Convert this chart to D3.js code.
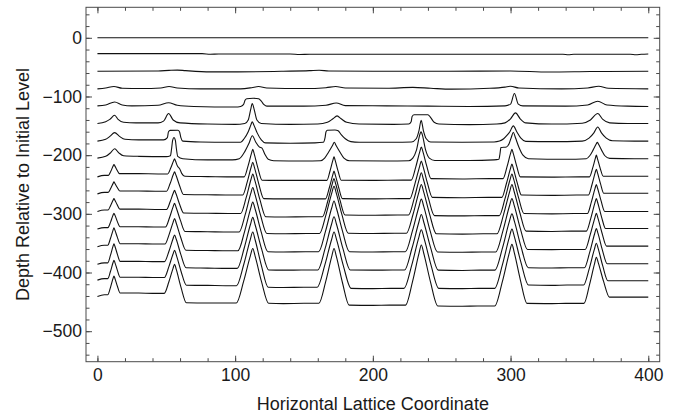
<!DOCTYPE html>
<html><head><meta charset="utf-8">
<script src="https://cdn.jsdelivr.net/npm/d3@7"></script>
<style>
html,body{margin:0;padding:0;background:#fff;}
text{font-family:"Liberation Sans",Arial,sans-serif;}
</style></head>
<body><svg id="chart" width="677" height="416"></svg>
<script>
// ---------- data ----------
const xTitle = "Horizontal Lattice Coordinate";
const yTitle = "Depth Relative to Initial Level";
const xMajorTicks = [0, 100, 200, 300, 400];
const yMajorTicks = [-500, -400, -300, -200, -100, 0];
const xMinorTicks = d3.range(0, 401, 20);
const yMinorTicks = d3.range(-540, 41, 20);

const profile0 = [[0,0],[400,0]];
const profile1 = [[0,-27],[76,-27],[82,-28],[88,-27.5],[140,-27.5],[147,-28.5],[154,-28],[250,-28],[338,-28],[342,-28.8],[346,-28],[387,-28],[391,-28.8],[395,-28],[400,-27.5]];
const profile2 = [[0,-57],[44,-56.5],[52,-55.5],[58,-55],[64,-56],[82,-58],[102,-58],[135,-57],[154,-56],[161,-55.2],[168,-56.5],[200,-57],[255,-57],[300,-56.5],[328,-58.3],[358,-57.5],[400,-57]];
const profile3 = [[0,-87],[6,-85.5],[12,-83],[18,-86],[32,-86.5],[46,-85.5],[52,-83],[58,-85.5],[75,-87],[104,-87],[112,-85],[117,-83],[123,-85.5],[150,-86.5],[166,-85],[173,-83],[180,-85.5],[210,-86],[229,-84.5],[242,-86],[257,-87.5],[285,-86],[296,-84],[300,-82.5],[306,-85.5],[337,-87],[356,-85.5],[364,-82.5],[371,-86],[400,-87]];
const profile4 = [[0,-116],[6,-114.5],[12.5,-109.5],[18,-114.5],[25,-116],[44,-115],[51.7,-110.6],[58,-115],[70,-117],[100,-118],[104,-117],[106,-114],[107.3,-106],[108.5,-103.8],[113,-103],[117,-104],[119,-108],[121,-114],[123,-116.5],[150,-116.5],[166,-115],[173.4,-111],[180,-115.5],[210,-116],[240,-116.5],[270,-117],[296,-116],[300,-113],[302.8,-95],[305.6,-113],[309,-116],[340,-116.5],[356,-114.5],[363.3,-108],[370,-114.5],[385,-116.5],[400,-117]];
const profile5 = [[0,-146],[6,-143],[9,-139],[12.5,-132],[15,-139],[19,-144],[28,-145],[44,-145],[48,-142],[51.7,-129],[55,-140],[60,-145],[80,-147],[100,-147.5],[107,-146],[109.5,-140],[111.3,-122],[112.4,-112],[113.8,-122],[115.8,-140],[119,-146],[140,-147.5],[160,-147],[167,-144],[171,-138],[174,-133],[177,-138],[181,-144],[190,-147],[215,-147.5],[226,-147],[227.8,-143],[228.5,-134],[230,-131],[240,-131],[242,-136],[244.5,-144],[248,-147],[270,-148],[290,-147],[296,-145],[300,-138],[303.6,-128],[307,-138],[311,-145],[330,-147],[352,-145.5],[358,-140],[363.3,-129],[367,-139],[372,-145],[385,-146],[400,-146]];
const profile6 = [[0,-176],[6,-173],[9,-168],[12.5,-161.6],[16,-168],[20,-173],[30,-174],[48,-174],[50.8,-170],[51.6,-160],[52.8,-157.7],[58.5,-157.5],[59.6,-160],[60.6,-170],[62,-176],[75,-177.5],[95,-178],[104,-178],[106.5,-172],[109.5,-160],[111.5,-148],[112.4,-143],[113.5,-148],[116,-162],[119,-174],[122,-179],[140,-179.6],[158,-179],[164,-178],[165.3,-170],[166,-160],[167,-157.6],[172.5,-157],[174.8,-158.5],[177,-165],[180,-172],[184,-177],[190,-178],[215,-178],[228,-177.5],[231.5,-172],[233.5,-158],[235.1,-140.6],[236.7,-158],[238.8,-172],[242,-177.5],[265,-178],[288,-177.5],[292,-176],[295,-172],[297.5,-166],[299.5,-160],[302,-150],[304.5,-160],[307.5,-171],[311,-176.5],[330,-177],[352,-176],[357,-171],[360.5,-162],[363.3,-152],[366,-162],[369.5,-171],[374,-175.5],[390,-176],[400,-176]];
const profile7 = [[0,-205],[6,-202],[9.5,-196],[12.5,-189],[15.5,-196],[19,-201],[30,-202],[50,-202.5],[53,-201],[53.8,-190],[54.6,-175],[55.6,-170],[56.6,-175],[57.4,-190],[58.3,-202],[62,-206],[80,-208],[98,-208],[103,-206],[106.5,-196],[110,-180],[112.5,-167],[115,-178],[117.5,-186],[119.5,-188],[121.5,-198],[124,-207],[128,-209.5],[150,-210],[162,-209.5],[165,-205],[167.8,-195],[170.8,-183],[172,-178],[173.2,-183],[176.2,-195],[179,-205],[183,-209.5],[210,-210],[226,-209.5],[229,-205],[231.6,-192],[234.1,-165],[235,-160],[235.9,-165],[238.4,-192],[241,-205],[245,-209],[270,-209],[288,-208],[291.5,-207],[292.3,-198],[293,-187],[297,-186],[299,-180],[300.5,-170],[302,-161],[303.5,-170],[306,-186],[309,-200],[313,-206],[340,-207],[355,-206],[357.5,-201],[360,-191],[362.2,-181],[363,-178],[363.8,-181],[366,-191],[368.5,-201],[372,-205.5],[390,-206],[400,-206]];
const profile8 = [[0,-237],[5,-234.5],[8,-234.5],[9.8,-227],[11.4,-218.6],[12,-216],[12.6,-218.2],[14.2,-225.3],[16,-231.5],[30,-231.5],[44,-232],[51,-232],[53.3,-221.6],[55.3,-209.6],[56,-206],[56.7,-210],[58.2,-219],[59.7,-223],[61.2,-231],[63.5,-236],[80,-236.5],[100,-237],[106.6,-237],[109.4,-218.2],[111.9,-196.6],[112.8,-190],[113.8,-197.4],[116.5,-221.6],[119.6,-242.7],[130,-243],[155,-243],[166.6,-243],[168.9,-227],[171,-208.6],[171.8,-203],[172.6,-208.6],[174.7,-226.8],[177,-242.7],[200,-243],[222,-242.5],[227.9,-242.5],[231.2,-219.9],[234.1,-193.9],[235.2,-186],[236.3,-193.6],[239.1,-218.4],[242.2,-240],[265,-240.5],[285,-240],[294.5,-240],[297.4,-220],[300,-197],[301,-190],[301.9,-196.6],[304.4,-218.2],[307.1,-237],[330,-237.5],[350,-237],[357.3,-237],[359.6,-222.2],[361.6,-205.2],[362.3,-200],[363,-205],[365,-221.6],[367.3,-236],[385,-236],[400,-236]];
const profile9 = [[0,-266],[5,-263.5],[7.8,-263.5],[9.7,-256.3],[11.4,-248.1],[12,-245.6],[12.6,-247.8],[14.3,-254.8],[16.2,-261],[30,-261],[42,-261.5],[50.2,-261.5],[52.8,-248.3],[55.1,-233.1],[56,-228.5],[57,-233.9],[59.6,-251.6],[62.5,-267],[80,-267.5],[98,-268],[105.5,-268],[108.8,-245.6],[111.7,-219.8],[112.8,-212],[114,-220.7],[117.2,-249.2],[120.8,-274],[135,-274.5],[155,-274.5],[165.6,-274.5],[168.4,-255.5],[170.9,-233.7],[171.8,-227],[172.7,-233.6],[175.2,-255.2],[177.9,-274],[200,-274.5],[220,-274],[226.9,-274],[230.6,-248.4],[234,-219],[235.2,-210],[236.4,-218.7],[239.6,-247.2],[243.2,-272],[265,-272.5],[284,-272],[293.6,-272],[296.9,-249.2],[299.9,-223],[301,-215],[302,-222.4],[304.8,-246.8],[307.9,-268],[330,-268.5],[348,-268],[356.5,-268],[359.1,-250.4],[361.4,-230.2],[362.3,-224],[363.1,-229.7],[365.3,-248.6],[367.7,-265],[385,-265],[400,-265]];
const profile10 = [[0,-296],[5,-293.5],[7.7,-293.5],[9.6,-285.6],[11.4,-276.6],[12,-273.8],[12.6,-276.3],[14.4,-284.7],[16.3,-292],[30,-292],[42,-292.5],[50.2,-292.5],[52.8,-279.5],[55.1,-264.6],[56,-260],[57,-265.4],[59.6,-283.2],[62.6,-298.6],[80,-299],[97,-299.5],[104,-299.5],[108,-272.5],[111.5,-241.5],[112.8,-232],[114.2,-242.2],[118,-275.8],[122.3,-305],[135,-305.5],[153,-305],[163.4,-305],[167.2,-279],[170.5,-249.1],[171.8,-240],[173,-248.7],[176.2,-277.2],[179.8,-302],[200,-302.5],[218,-302],[225.9,-302],[230.1,-273.2],[233.8,-240.1],[235.2,-230],[236.6,-240.2],[240.4,-273.8],[244.7,-303],[265,-303.5],[282,-303],[291.8,-303],[295.9,-274.6],[299.6,-241.9],[301,-232],[302.3,-241.4],[305.8,-272.4],[309.7,-299.4],[330,-300],[346,-299.5],[355.8,-299.5],[358.7,-279.7],[361.3,-256.9],[362.3,-250],[363.2,-256.4],[365.7,-277.6],[368.4,-296],[385,-296],[400,-296]];
const profile11 = [[0,-326],[5,-323.5],[7.6,-323.5],[9.6,-313.7],[11.3,-302.4],[12,-299],[12.7,-302.2],[14.4,-312.8],[16.4,-322],[30,-322],[41,-322.5],[49.4,-322.5],[52.4,-306.3],[55,-287.7],[56,-282],[57.1,-288.7],[60.2,-310.8],[63.6,-330],[80,-330.5],[96,-331],[102.9,-331],[107.4,-300.6],[111.3,-265.6],[112.8,-255],[114.3,-266],[118.4,-302],[123,-333.4],[135,-334],[152,-333.5],[161.3,-333.5],[166,-301.3],[170.2,-264.3],[171.8,-253],[173.4,-264.2],[177.5,-301],[182.2,-333],[200,-333.5],[216,-333],[224.4,-333],[229.3,-299.8],[233.6,-261.6],[235.2,-250],[236.8,-261.8],[241.2,-300.4],[246.1,-334],[265,-334.5],[280,-334],[290.1,-334],[295,-300.4],[299.4,-261.8],[301,-250],[302.5,-261.1],[306.7,-297.7],[311.3,-329.5],[330,-330],[344,-329.5],[355,-329.5],[358.3,-307.3],[361.2,-281.8],[362.3,-274],[363.3,-281.1],[366,-304.6],[369,-325],[385,-325],[400,-325]];
const profile12 = [[0,-356],[5,-353.5],[7.5,-353.5],[9.5,-341.7],[11.3,-328.1],[12,-324],[12.7,-327.8],[14.5,-340.2],[16.5,-351],[30,-351],[40,-351.5],[49,-351.5],[52.2,-334.1],[55,-314.1],[56,-308],[57.2,-315.6],[60.5,-340.4],[64.2,-362],[80,-362.5],[95,-363],[102,-363],[106.9,-329.8],[111.2,-291.6],[112.8,-280],[114.5,-291.8],[118.9,-330.7],[123.8,-364.5],[135,-365],[151,-364.5],[160.6,-364.5],[165.6,-329.9],[170.1,-290.1],[171.8,-278],[173.5,-290.1],[178,-329.9],[183,-364.5],[200,-365],[215,-364.5],[223.6,-364.5],[228.8,-328.7],[233.5,-287.5],[235.2,-275],[237,-287.6],[241.6,-329],[246.9,-365],[265,-365.5],[279,-365],[289.2,-365],[294.5,-328.6],[299.2,-286.7],[301,-274],[302.7,-286.1],[307.2,-326],[312.3,-360.7],[330,-361],[343,-360.7],[354.2,-360.7],[357.8,-336],[361.1,-307.6],[362.3,-299],[363.4,-306.8],[366.4,-332.6],[369.7,-355],[385,-355],[400,-355]];
const profile13 = [[0,-386],[5,-383.5],[7.5,-383.5],[9.5,-370.5],[11.3,-355.5],[12,-351],[12.7,-355.2],[14.5,-369],[16.5,-381],[30,-381],[40,-381.5],[48.7,-381.5],[52,-363.3],[54.9,-342.4],[56,-336],[57.3,-343.8],[60.6,-369.6],[64.4,-392],[80,-392.5],[95,-393],[101.5,-393],[106.6,-358.2],[111.1,-318.2],[112.8,-306],[114.5,-318.6],[119.2,-359.8],[124.4,-395.7],[135,-396],[150,-395.7],[160,-395.7],[165.3,-359.4],[170,-317.7],[171.8,-305],[173.6,-317.7],[178.3,-359.4],[183.6,-395.7],[200,-396],[214,-395.7],[223,-395.7],[228.5,-357.8],[233.4,-314.3],[235.2,-301],[237,-314.3],[242,-358],[247.5,-396],[265,-396.5],[278,-396],[288.6,-396],[294.2,-357.6],[299.1,-313.4],[301,-300],[302.8,-312.9],[307.5,-355.1],[312.9,-391.9],[330,-392.3],[342,-392],[353.6,-392],[357.5,-365.2],[361,-334.4],[362.3,-325],[363.5,-333.4],[366.6,-361],[370.2,-385],[385,-385],[400,-385]];
const profile14 = [[0,-413],[5,-410.5],[7.5,-410.5],[9.5,-397.9],[11.3,-383.4],[12,-379],[12.7,-383.1],[14.5,-396.4],[16.5,-408],[30,-408],[40,-408.5],[48.6,-408.5],[51.9,-389.9],[54.9,-368.5],[56,-362],[57.3,-370.3],[60.7,-397.8],[64.6,-421.6],[80,-422],[95,-422.5],[101,-422.5],[106.3,-385.9],[111,-343.8],[112.8,-331],[114.5,-344.2],[119,-387.4],[124,-425],[135,-425.5],[150,-425],[159.6,-425],[165.1,-387.4],[170,-344.2],[171.8,-331],[173.7,-344.4],[178.6,-388.6],[184.2,-427],[200,-427.5],[213,-427],[222.6,-427],[228.3,-387],[233.3,-341],[235.2,-327],[237.1,-341],[242.2,-387],[247.9,-427],[265,-427.5],[277,-427],[288.4,-427],[294.1,-386.6],[299.1,-340.1],[301,-326],[302.8,-339.4],[307.6,-383.2],[313,-421.4],[330,-422],[341,-421.4],[353,-421.4],[357.2,-392.8],[360.9,-360],[362.3,-350],[363.6,-359],[366.9,-388.4],[370.7,-414],[385,-414],[400,-414]];
const profile15 = [[0,-441],[5,-438],[7.5,-438],[9.5,-425.2],[11.3,-410.5],[12,-406],[12.7,-410.1],[14.5,-423.4],[16.5,-435],[30,-435],[40,-435.5],[48.5,-435.5],[51.9,-415.7],[54.9,-392.9],[56,-386],[57.3,-395.2],[60.7,-425.4],[64.6,-451.6],[80,-452],[95,-452],[100.8,-452],[106.2,-414.8],[111,-372],[112.8,-359],[114.5,-372.1],[119.1,-415],[124.3,-452.4],[135,-453],[150,-452.5],[160.8,-452.5],[165.8,-415.1],[170.2,-372.1],[171.8,-359],[173.5,-372.5],[177.9,-417],[182.8,-455.6],[200,-456],[212,-455.6],[223.7,-455.6],[228.9,-414.6],[233.5,-367.4],[235.2,-353],[237,-367.6],[241.8,-415.4],[247.2,-457],[265,-457.5],[276,-457],[288.5,-457],[294.1,-415],[299.1,-366.7],[301,-352],[302.7,-366.1],[307.1,-412.4],[312,-452.6],[330,-453],[340,-452.6],[353.3,-452.6],[357.3,-421.2],[361,-385],[362.3,-374],[363.7,-383.5],[367.5,-414.8],[371.8,-442],[385,-442],[400,-442]];

const profiles = [profile0, profile1, profile2, profile3, profile4, profile5, profile6, profile7,
  profile8, profile9, profile10, profile11, profile12, profile13, profile14, profile15];

// ---------- drawing ----------
const svg = d3.select("#chart");
const L = 86, R = 659.7, T = 7.3, B = 361.7;
const x = d3.scaleLinear().domain([-8.3, 408.3]).range([L, R]);
const y = d3.scaleLinear().domain([-552, 52]).range([B, T]);
const frameColor = "#4a4a4a";
const labelColor = "#1a1a1a";
const fontSize = 17.5;

svg.append("defs").append("clipPath").attr("id", "clip")
  .append("rect").attr("x", L).attr("y", T).attr("width", R - L).attr("height", B - T);

const line = d3.line().x(d => x(d[0])).y(d => y(d[1])).curve(d3.curveMonotoneX);
svg.append("g").attr("clip-path", "url(#clip)")
  .selectAll("path").data(profiles).join("path")
  .attr("d", line).attr("fill", "none").attr("stroke", "#111").attr("stroke-width", 1.1)
  .attr("stroke-linejoin", "round");

function styleAxis(g, showText) {
  g.select(".domain").remove();
  g.selectAll(".tick line").attr("stroke", frameColor).attr("stroke-width", 1);
  g.selectAll(".tick text").attr("fill", labelColor).style("font-size", fontSize + "px")
    .style("font-family", '"Liberation Sans", Arial, sans-serif');
  if (!showText) g.selectAll(".tick text").remove();
}
const minor = 3.5, major = 6;
// bottom
svg.append("g").attr("transform", `translate(0,${B})`)
  .call(d3.axisBottom(x).tickValues(xMinorTicks).tickSize(-minor).tickFormat(""))
  .call(g => styleAxis(g, false));
svg.append("g").attr("transform", `translate(0,${B})`)
  .call(d3.axisBottom(x).tickValues(xMajorTicks).tickSize(-major).tickPadding(7).tickFormat(d3.format("d")))
  .call(g => styleAxis(g, true));
// top
svg.append("g").attr("transform", `translate(0,${T})`)
  .call(d3.axisTop(x).tickValues(xMinorTicks).tickSize(-minor).tickFormat(""))
  .call(g => styleAxis(g, false));
svg.append("g").attr("transform", `translate(0,${T})`)
  .call(d3.axisTop(x).tickValues(xMajorTicks).tickSize(-major).tickFormat(""))
  .call(g => styleAxis(g, false));
// left
const yfmt = d => (d < 0 ? "\u2212" + Math.abs(d) : String(d));
svg.append("g").attr("transform", `translate(${L},0)`)
  .call(d3.axisLeft(y).tickValues(yMinorTicks).tickSize(-minor).tickFormat(""))
  .call(g => styleAxis(g, false));
svg.append("g").attr("transform", `translate(${L},0)`)
  .call(d3.axisLeft(y).tickValues(yMajorTicks).tickSize(-major).tickPadding(4).tickFormat(yfmt))
  .call(g => styleAxis(g, true));
// right
svg.append("g").attr("transform", `translate(${R},0)`)
  .call(d3.axisRight(y).tickValues(yMinorTicks).tickSize(-minor).tickFormat(""))
  .call(g => styleAxis(g, false));
svg.append("g").attr("transform", `translate(${R},0)`)
  .call(d3.axisRight(y).tickValues(yMajorTicks).tickSize(-major).tickFormat(""))
  .call(g => styleAxis(g, false));

// frame
svg.append("rect").attr("x", L).attr("y", T).attr("width", R - L).attr("height", B - T)
  .attr("fill", "none").attr("stroke", frameColor).attr("stroke-width", 1);

// titles
svg.append("text").attr("x", (L + R) / 2).attr("y", 410).attr("text-anchor", "middle")
  .attr("fill", labelColor).style("font-size", "18px").text(xTitle);
svg.append("text").attr("transform", `translate(29,${(T + B) / 2}) rotate(-90)`)
  .attr("text-anchor", "middle").attr("fill", labelColor).style("font-size", "18px").text(yTitle);
</script></body></html>
